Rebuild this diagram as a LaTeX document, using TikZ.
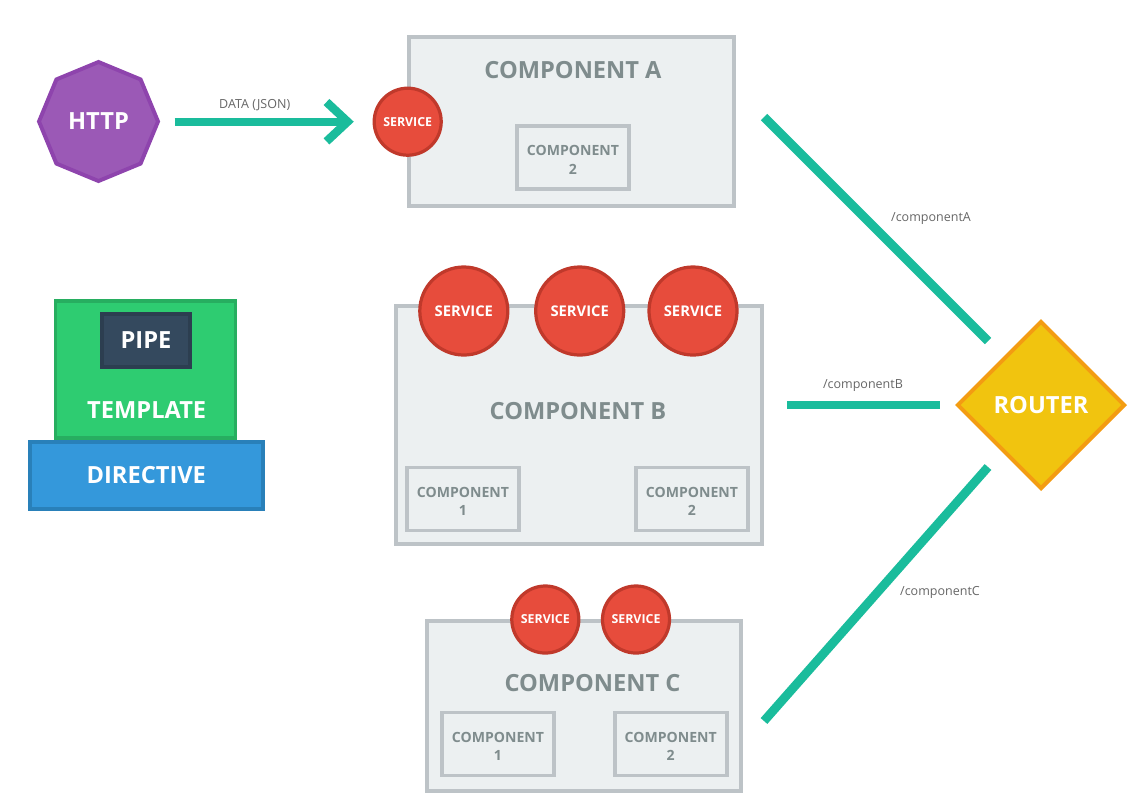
\documentclass[tikz,border=0pt]{standalone}
\usepackage{fontspec}
\setmainfont{Open Sans}
\usetikzlibrary{arrows.meta,positioning,calc,shapes.geometric}

\definecolor{boxfill}{HTML}{ECF0F1}
\definecolor{boxline}{HTML}{BDC3C7}
\definecolor{txtgray}{HTML}{7F8C8D}
\definecolor{svcfill}{HTML}{E74C3C}
\definecolor{svcline}{HTML}{C0392B}
\definecolor{linkteal}{HTML}{1ABC9C}
\definecolor{httpfill}{HTML}{9B59B6}
\definecolor{httpline}{HTML}{8E44AD}
\definecolor{tmplfill}{HTML}{2ECC71}
\definecolor{tmplline}{HTML}{27AE60}
\definecolor{dirfill}{HTML}{3498DB}
\definecolor{dirline}{HTML}{2980B9}
\definecolor{pipefill}{HTML}{34495E}
\definecolor{pipeline}{HTML}{2C3E50}
\definecolor{routfill}{HTML}{F1C40F}
\definecolor{routline}{HTML}{F39C12}

\tikzset{
  bigtext/.style={font=\fontsize{16.8}{20}\selectfont\bfseries},
  comp/.style={draw=boxline, fill=boxfill, line width=2.8pt, inner sep=0pt},
  title/.style={bigtext, text=txtgray},
  sub/.style={comp, align=center, text=txtgray, font=\fontsize{10}{13.3}\selectfont\bfseries,
    text height=24pt, minimum width=2.8cm, minimum height=1.575cm},
  svc/.style={circle, draw=svcline, fill=svcfill, line width=2.3pt, text=white,
    font=\fontsize{8.8}{10}\selectfont\bfseries, inner sep=0pt, minimum size=1.675cm},
  bigsvc/.style={svc, font=\fontsize{10.5}{12}\selectfont\bfseries, minimum size=2.2cm},
  link/.style={draw=linkteal, line width=6.3pt},
  flow/.style={draw=linkteal, line width=5.7pt, -{Straight Barb[length=15pt, width=28pt, line width=6pt]}},
  tag/.style={text=black!60, font=\fontsize{8.9}{10}\selectfont},
}

\begin{document}
\begin{tikzpicture}[x=0.025cm, y=-0.025cm]
\useasboundingbox (0,0) rectangle (1143,805);

% HTTP source
\node[regular polygon, regular polygon sides=8, shape border rotate=22.5, draw=httpline, fill=httpfill,
  line width=2.8pt, minimum size=2.975cm, inner sep=0pt, text=white, bigtext] (http) at (98.5,121.5) {HTTP};

% Component A
\node[comp, minimum width=8.125cm, minimum height=4.225cm] (compA) at (571.5,121.5) {};
\node[title] (titleA) at (573,70) {COMPONENT A};
\node[sub] (compA2) at (573,157.5) {COMPONENT\\2};
\node[svc] (svcA) at (407.7,121.7) {SERVICE};
\draw[flow, shorten <=1.9cm, shorten >=0.47cm] (http |- svcA) -- node[tag, pos=0.57, yshift=11.5pt] (dataLbl) {DATA (JSON)} (svcA.west);

% Component B
\node[comp, minimum width=9.15cm, minimum height=5.95cm] (compB) at (579,425) {};
\node[title] (titleB) at (578,411) {COMPONENT B};
\node[sub] (compB1) at (463,499) {COMPONENT\\1};
\node[sub] (compB2) at (692,499) {COMPONENT\\2};
\foreach \i/\x in {1/463.8, 2/579.7, 3/693}
  \node[bigsvc] (svcB\i) at (\x,311) {SERVICE};

% Component C
\node[comp, minimum width=7.85cm, minimum height=4.25cm] (compC) at (584,706) {};
\node[title] (titleC) at (592.5,683) {COMPONENT C};
\node[sub] (compC1) at (498,744) {COMPONENT\\1};
\node[sub] (compC2) at (670.7,744) {COMPONENT\\2};
\node[svc] (svcC1) at (545.3,619.5) {SERVICE};
\node[svc] (svcC2) at (636,619.5) {SERVICE};

% Template, pipe and directive
\node[draw=tmplline, fill=tmplfill, line width=2.8pt, minimum width=4.5cm, minimum height=3.425cm] (template) at (145.5,369.5) {};
\node[text=white, bigtext] (templateLbl) at (146.7,409.7) {TEMPLATE};
\node[draw=pipeline, fill=pipefill, line width=2.8pt, minimum width=2.2cm, minimum height=1.325cm,
  inner sep=0pt, text=white, bigtext] (pipe) at (146,340.3) {PIPE};
\node[draw=dirline, fill=dirfill, line width=2.8pt, minimum width=5.825cm, minimum height=1.675cm,
  inner sep=0pt, text=white, bigtext] (directive) at (146.3,475.3) {DIRECTIVE};

% Router
\node[diamond, draw=routline, fill=routfill, line width=2.8pt, minimum width=4.2cm, minimum height=4.2cm,
  inner sep=0pt, text=white, bigtext] (router) at (1041,405) {ROUTER};

% Routes
\coordinate (outA) at (764,117);
\coordinate (inA) at (988,341);
\coordinate (outC) at (764,721);
\coordinate (inC) at (988,467);
\draw[link] (outA) -- (inA);
\draw[link, shorten <=0.575cm, shorten >=0.375cm] (compB.east |- router) -- (router.west);
\draw[link] (outC) -- (inC);
\node[tag] (routeA) at (931,218.5) {/componentA};
\node[tag] (routeB) at (863,386) {/componentB};
\node[tag] (routeC) at (940,592) {/componentC};
\end{tikzpicture}
\end{document}
